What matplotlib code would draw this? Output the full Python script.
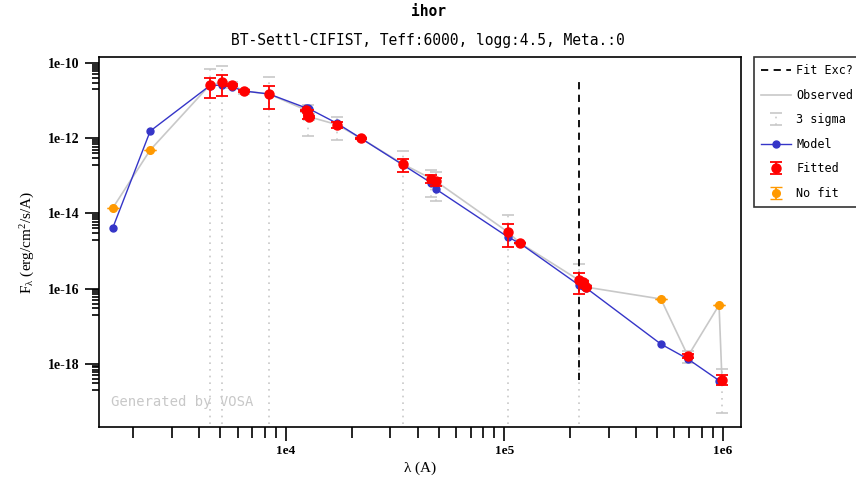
import numpy as np
import matplotlib
matplotlib.use('Agg')
from matplotlib import pyplot as plt
from matplotlib.ticker import FixedLocator, FixedFormatter, NullFormatter
from matplotlib.lines import Line2D

plt.rcParams['mathtext.default'] = 'regular'

# fitted photometry (A, erg/cm2/s/A)
fit_wl = [4480, 5090, 5660, 6430, 8360, 12350, 12600, 12800, 17100, 22000, 34300,
          46300, 48500, 103700, 117800, 219000, 229000, 236000, 692000, 990000]
fit_flux = [2.6e-11, 3.1e-11, 2.6e-11, 1.8e-11, 1.5e-11, 5.6e-12, 4.4e-12, 3.7e-12,
            2.3e-12, 1.0e-12, 2.05e-13, 8.4e-14, 7.2e-14, 3.2e-15, 1.63e-15,
            1.69e-16, 1.5e-16, 1.1e-16, 1.61e-18, 3.8e-19]
fit_err = [1.45e-11, 1.8e-11, 1.5e-12, 1.0e-12, 9e-12, 2e-13, 1.08e-12, 2e-13,
           4.6e-13, 2e-14, 8e-14, 1.9e-14, 1.7e-14, 1.9e-15, 3e-17,
           9.5e-17, 5e-18, 4e-18, 1.9e-19, 1.1e-19]

# not fitted
nofit_wl = [1610, 2390, 520000, 960000]
nofit_flux = [1.39e-14, 4.85e-13, 5.3e-17, 3.66e-17]

# model
model_wl = [1610, 2390, 4480, 5090, 5660, 6430, 8360, 12350, 12600, 12800, 17100, 22000,
            34300, 46300, 48500, 103700, 117800, 219000, 229000, 236000,
            520000, 692000, 960000, 990000]
model_flux = [4.1e-15, 1.55e-12, 2.5e-11, 2.6e-11, 2.3e-11, 1.8e-11, 1.5e-11, 6.4e-12,
              6.2e-12, 6.0e-12, 2.5e-12, 1.0e-12, 1.95e-13, 6.45e-14, 4.45e-14,
              2.36e-15, 1.6e-15, 1.25e-16, 1.15e-16, 1.05e-16,
              3.36e-18, 1.34e-18, 3.6e-19, 3.5e-19]

excess_wl = 219000

mono = 'DejaVu Sans Mono'
serif = 'Liberation Serif'
blue = '#3535c8'
orange = '#ff9900'
grey = '#c8c8c8'

fig = plt.figure(figsize=(8.56, 4.83), dpi=100)
ax = fig.add_axes([99/856, 1-427/483, (741-99)/856, (427-57)/483])
ax.set_xscale('log')
ax.set_yscale('log')

# observed line through every point
obs_wl = np.array(fit_wl + nofit_wl)
obs_flux = np.array(fit_flux + nofit_flux)
order = np.argsort(obs_wl)
obs_line, = ax.plot(obs_wl[order], obs_flux[order], '-', color=grey, lw=1.2, zorder=1)

# 3 sigma bars
f = np.array(fit_flux)
e = np.array(fit_err)
lo = np.clip(f - 3*e, 1e-30, None)
hi = f + 3*e
sig = ax.errorbar(fit_wl, f, yerr=[f - lo, hi - f], fmt='none', ecolor=grey,
                  elinewidth=1.2, capsize=4, capthick=1.2, zorder=2)
sig[2][0].set_linestyle((0, (1, 3)))

# fit excess marker
exc = ax.vlines(excess_wl, min(fit_flux), max(fit_flux), colors='black',
                linestyles=(0, (4, 3)), lw=1.3, zorder=3)

model_line, = ax.plot(model_wl, model_flux, '-o', color=blue, lw=1.0, ms=5, zorder=4)

fitted = ax.errorbar(fit_wl, fit_flux, yerr=fit_err, fmt='o', color='red', ms=6.5,
                     elinewidth=1.3, capsize=4, capthick=1.3, zorder=5)
nofit = ax.errorbar(nofit_wl, nofit_flux, yerr=[0]*len(nofit_wl), fmt='o', color=orange,
                    ms=5.5, elinewidth=1.3, capsize=4, zorder=5)

ax.set_xlim(1393, 1.21e6)
ax.set_ylim(10**-19.68, 10**-9.84)

xmaj = [1e4, 1e5, 1e6]
ax.xaxis.set_major_locator(FixedLocator(xmaj))
ax.xaxis.set_major_formatter(FixedFormatter(['1e4', '1e5', '1e6']))
ax.xaxis.set_minor_locator(FixedLocator([m*10.0**k for k in (3, 4, 5) for m in range(2, 10)]))
ax.xaxis.set_minor_formatter(NullFormatter())
ymaj = [1e-18, 1e-16, 1e-14, 1e-12, 1e-10]
ax.yaxis.set_major_locator(FixedLocator(ymaj))
ax.yaxis.set_major_formatter(FixedFormatter(['1e-18', '1e-16', '1e-14', '1e-12', '1e-10']))
ax.yaxis.set_minor_locator(FixedLocator([m*10.0**k for k in (-11, -13, -15, -17, -19) for m in range(2, 10)]))
ax.yaxis.set_minor_formatter(NullFormatter())
ax.tick_params(which='both', direction='out', top=False, right=False, width=1.2)
ax.tick_params(axis='x', which='major', length=10, pad=3)
ax.tick_params(axis='x', which='minor', length=8)
ax.tick_params(axis='y', which='major', length=10, pad=4)
ax.tick_params(axis='y', which='minor', length=5)
for lab in ax.get_xticklabels():
    lab.set_fontfamily(serif)
    lab.set_fontweight('bold')
    lab.set_fontsize(9.5)
for lab in ax.get_yticklabels():
    lab.set_fontfamily(serif)
    lab.set_fontweight('bold')
    lab.set_fontsize(10)
for s in ax.spines.values():
    s.set_linewidth(1.2)

ax.set_xlabel(r'$\lambda$ (A)', fontfamily=serif, fontsize=11, labelpad=2)
ax.set_ylabel(r'F$_\lambda$ (erg/cm$^2$/s/A)', fontfamily=serif, fontsize=11, labelpad=8)

ax.text(0.018, 0.068, 'Generated by VOSA', transform=ax.transAxes, color=grey,
        fontfamily=mono, fontsize=10, va='center')

fig.text(0.5, 1-12/483, 'ihor', ha='center', va='center', fontfamily=mono,
         fontweight='bold', fontsize=10.5)
fig.text(0.5, 1-40/483, 'BT-Settl-CIFIST, Teff:6000, logg:4.5, Meta.:0', ha='center',
         va='center', fontfamily=mono, fontsize=10.5)

leg_exc = Line2D([], [], color='black', ls=(0, (4, 3)), lw=1.3)
leg = fig.legend([leg_exc, obs_line, sig, model_line, fitted, nofit],
                 ['Fit Exc?', 'Observed', '3 sigma', 'Model', 'Fitted', 'No fit'],
                 loc='upper left', bbox_to_anchor=(754/856, 1-57/483),
                 prop={'family': mono, 'size': 8.5}, frameon=True, fancybox=False,
                 edgecolor='black', handlelength=2.5, handletextpad=0.5,
                 labelspacing=0.98, borderpad=0.6, borderaxespad=0)
leg.get_frame().set_linewidth(1.2)

fig.savefig('out.png', dpi=100)
